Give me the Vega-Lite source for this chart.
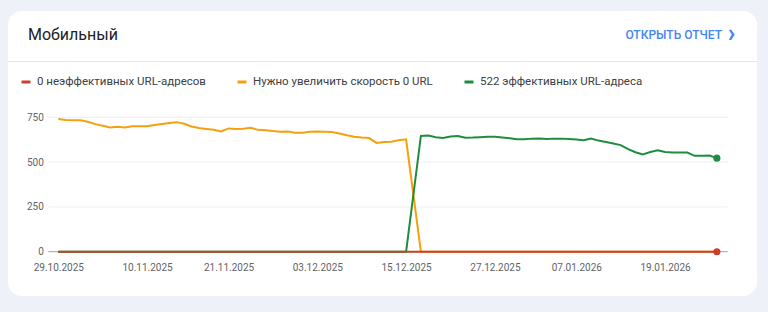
{
  "$schema": "https://vega.github.io/schema/vega-lite/v6.json",
  "width": 749,
  "height": 285,
  "autosize": {"type": "none"},
  "padding": {"left": 8, "top": 11, "right": 11, "bottom": 16},
  "background": "#eef2f8",
  "config": {
    "view": {"fill": "#ffffff", "stroke": null, "cornerRadius": 14},
    "font": "Roboto"
  },
  "title": {"text": "Мобильный", "anchor": "start", "frame": "group", "orient": "top", "offset": -40, "dx": 20, "baseline": "middle", "fontSize": 16, "fontWeight": "normal", "color": "#202124", "font": "Roboto"},
  "datasets": {
    "cwv": [
      {"date": "2025-10-29", "poor": 0, "ni": 740, "good": 0},
      {"date": "2025-10-30", "poor": 0, "ni": 735, "good": 0},
      {"date": "2025-10-31", "poor": 0, "ni": 733, "good": 0},
      {"date": "2025-11-01", "poor": 0, "ni": 733, "good": 0},
      {"date": "2025-11-02", "poor": 0, "ni": 725, "good": 0},
      {"date": "2025-11-03", "poor": 0, "ni": 712, "good": 0},
      {"date": "2025-11-04", "poor": 0, "ni": 703, "good": 0},
      {"date": "2025-11-05", "poor": 0, "ni": 693, "good": 0},
      {"date": "2025-11-06", "poor": 0, "ni": 697, "good": 0},
      {"date": "2025-11-07", "poor": 0, "ni": 693, "good": 0},
      {"date": "2025-11-08", "poor": 0, "ni": 700, "good": 0},
      {"date": "2025-11-09", "poor": 0, "ni": 700, "good": 0},
      {"date": "2025-11-10", "poor": 0, "ni": 700, "good": 0},
      {"date": "2025-11-11", "poor": 0, "ni": 707, "good": 0},
      {"date": "2025-11-12", "poor": 0, "ni": 713, "good": 0},
      {"date": "2025-11-13", "poor": 0, "ni": 718, "good": 0},
      {"date": "2025-11-14", "poor": 0, "ni": 723, "good": 0},
      {"date": "2025-11-15", "poor": 0, "ni": 714, "good": 0},
      {"date": "2025-11-16", "poor": 0, "ni": 699, "good": 0},
      {"date": "2025-11-17", "poor": 0, "ni": 690, "good": 0},
      {"date": "2025-11-18", "poor": 0, "ni": 685, "good": 0},
      {"date": "2025-11-19", "poor": 0, "ni": 680, "good": 0},
      {"date": "2025-11-20", "poor": 0, "ni": 671, "good": 0},
      {"date": "2025-11-21", "poor": 0, "ni": 688, "good": 0},
      {"date": "2025-11-22", "poor": 0, "ni": 685, "good": 0},
      {"date": "2025-11-23", "poor": 0, "ni": 686, "good": 0},
      {"date": "2025-11-24", "poor": 0, "ni": 691, "good": 0},
      {"date": "2025-11-25", "poor": 0, "ni": 680, "good": 0},
      {"date": "2025-11-26", "poor": 0, "ni": 678, "good": 0},
      {"date": "2025-11-27", "poor": 0, "ni": 673, "good": 0},
      {"date": "2025-11-28", "poor": 0, "ni": 669, "good": 0},
      {"date": "2025-11-29", "poor": 0, "ni": 671, "good": 0},
      {"date": "2025-11-30", "poor": 0, "ni": 664, "good": 0},
      {"date": "2025-12-01", "poor": 0, "ni": 664, "good": 0},
      {"date": "2025-12-02", "poor": 0, "ni": 669, "good": 0},
      {"date": "2025-12-03", "poor": 0, "ni": 671, "good": 0},
      {"date": "2025-12-04", "poor": 0, "ni": 670, "good": 0},
      {"date": "2025-12-05", "poor": 0, "ni": 668, "good": 0},
      {"date": "2025-12-06", "poor": 0, "ni": 660, "good": 0},
      {"date": "2025-12-07", "poor": 0, "ni": 650, "good": 0},
      {"date": "2025-12-08", "poor": 0, "ni": 642, "good": 0},
      {"date": "2025-12-09", "poor": 0, "ni": 637, "good": 0},
      {"date": "2025-12-10", "poor": 0, "ni": 634, "good": 0},
      {"date": "2025-12-11", "poor": 0, "ni": 607, "good": 0},
      {"date": "2025-12-12", "poor": 0, "ni": 612, "good": 0},
      {"date": "2025-12-13", "poor": 0, "ni": 613, "good": 0},
      {"date": "2025-12-14", "poor": 0, "ni": 622, "good": 0},
      {"date": "2025-12-15", "poor": 0, "ni": 627, "good": 0},
      {"date": "2025-12-17", "poor": 0, "ni": 0, "good": 646},
      {"date": "2025-12-18", "poor": 0, "ni": 0, "good": 648},
      {"date": "2025-12-19", "poor": 0, "ni": 0, "good": 639},
      {"date": "2025-12-20", "poor": 0, "ni": 0, "good": 634},
      {"date": "2025-12-21", "poor": 0, "ni": 0, "good": 643},
      {"date": "2025-12-22", "poor": 0, "ni": 0, "good": 646},
      {"date": "2025-12-23", "poor": 0, "ni": 0, "good": 636},
      {"date": "2025-12-24", "poor": 0, "ni": 0, "good": 637},
      {"date": "2025-12-25", "poor": 0, "ni": 0, "good": 639},
      {"date": "2025-12-26", "poor": 0, "ni": 0, "good": 641},
      {"date": "2025-12-27", "poor": 0, "ni": 0, "good": 641},
      {"date": "2025-12-28", "poor": 0, "ni": 0, "good": 637},
      {"date": "2025-12-29", "poor": 0, "ni": 0, "good": 633},
      {"date": "2025-12-30", "poor": 0, "ni": 0, "good": 627},
      {"date": "2025-12-31", "poor": 0, "ni": 0, "good": 628},
      {"date": "2026-01-01", "poor": 0, "ni": 0, "good": 631},
      {"date": "2026-01-02", "poor": 0, "ni": 0, "good": 632},
      {"date": "2026-01-03", "poor": 0, "ni": 0, "good": 629},
      {"date": "2026-01-04", "poor": 0, "ni": 0, "good": 631},
      {"date": "2026-01-05", "poor": 0, "ni": 0, "good": 631},
      {"date": "2026-01-06", "poor": 0, "ni": 0, "good": 629},
      {"date": "2026-01-07", "poor": 0, "ni": 0, "good": 626},
      {"date": "2026-01-08", "poor": 0, "ni": 0, "good": 622},
      {"date": "2026-01-09", "poor": 0, "ni": 0, "good": 631},
      {"date": "2026-01-10", "poor": 0, "ni": 0, "good": 620},
      {"date": "2026-01-11", "poor": 0, "ni": 0, "good": 612},
      {"date": "2026-01-12", "poor": 0, "ni": 0, "good": 604},
      {"date": "2026-01-13", "poor": 0, "ni": 0, "good": 595},
      {"date": "2026-01-14", "poor": 0, "ni": 0, "good": 572},
      {"date": "2026-01-15", "poor": 0, "ni": 0, "good": 555},
      {"date": "2026-01-16", "poor": 0, "ni": 0, "good": 543},
      {"date": "2026-01-17", "poor": 0, "ni": 0, "good": 556},
      {"date": "2026-01-18", "poor": 0, "ni": 0, "good": 566},
      {"date": "2026-01-19", "poor": 0, "ni": 0, "good": 556},
      {"date": "2026-01-20", "poor": 0, "ni": 0, "good": 553},
      {"date": "2026-01-21", "poor": 0, "ni": 0, "good": 553},
      {"date": "2026-01-22", "poor": 0, "ni": 0, "good": 553},
      {"date": "2026-01-23", "poor": 0, "ni": 0, "good": 535},
      {"date": "2026-01-24", "poor": 0, "ni": 0, "good": 535},
      {"date": "2026-01-25", "poor": 0, "ni": 0, "good": 537},
      {"date": "2026-01-26", "poor": 0, "ni": 0, "good": 522}
    ]
  },
  "layer": [
    {
      "data": {"values": [{"line": "divider"}]},
      "mark": {"type": "rule", "color": "#e2e4e8", "strokeWidth": 1},
      "encoding": {
        "y": {"datum": 1061.4, "type": "quantitative", "scale": {"domain": [-247.2, 1343.2], "nice": false, "zero": false},
          "axis": {"values": [0, 250, 500, 750], "orient": "left", "offset": -35.3, "labelPadding": 0, "tickSize": 0, "ticks": false, "domain": false, "grid": false, "title": null, "labelFontSize": 10, "labelFont": "Roboto", "labelColor": "#5f6368", "labelAlign": "right", "labelBaseline": "middle"}}
      }
    },
    {
      "data": {"values": [{"level": 250}, {"level": 500}, {"level": 750}]},
      "mark": {"type": "rule", "color": "#eeeeee", "strokeWidth": 1},
      "encoding": {
        "y": {"field": "level", "type": "quantitative"},
        "x": {"datum": {"year": 2025, "month": 10, "date": 27, "hours": 15, "minutes": 34, "utc": true}, "type": "temporal",
          "scale": {"type": "utc", "nice": false, "domain": [{"year": 2025, "month": 10, "date": 22, "hours": 4, "minutes": 52, "utc": true}, {"year": 2026, "month": 1, "date": 31, "hours": 10, "minutes": 5, "utc": true}]},
          "axis": {"values": [
            {"year": 2025, "month": 10, "date": 29, "utc": true},
            {"year": 2025, "month": 11, "date": 10, "utc": true},
            {"year": 2025, "month": 11, "date": 21, "utc": true},
            {"year": 2025, "month": 12, "date": 3, "utc": true},
            {"year": 2025, "month": 12, "date": 15, "utc": true},
            {"year": 2025, "month": 12, "date": 27, "utc": true},
            {"year": 2026, "month": 1, "date": 7, "utc": true},
            {"year": 2026, "month": 1, "date": 19, "utc": true}
          ], "format": "%d.%m.%Y", "orient": "bottom", "offset": -44.3, "labelPadding": 11, "tickSize": 0, "ticks": false, "domain": false, "grid": false, "title": null, "labelFontSize": 10, "labelFont": "Roboto", "labelColor": "#5f6368", "labelFlush": false, "labelOverlap": false}},
        "x2": {"datum": {"year": 2026, "month": 1, "date": 27, "hours": 11, "minutes": 2, "utc": true}}
      }
    },
    {
      "data": {"values": [{"level": 0}]},
      "mark": {"type": "rule", "color": "#9aa0a6", "strokeWidth": 1},
      "encoding": {
        "y": {"field": "level", "type": "quantitative"},
        "x": {"datum": {"year": 2025, "month": 10, "date": 27, "hours": 15, "minutes": 34, "utc": true}, "type": "temporal"},
        "x2": {"datum": {"year": 2026, "month": 1, "date": 27, "hours": 11, "minutes": 2, "utc": true}}
      }
    },
    {
      "data": {"values": [{"label": "ОТКРЫТЬ ОТЧЕТ"}]},
      "mark": {"type": "text", "align": "right", "baseline": "middle", "fontSize": 12, "fontWeight": 500, "color": "#4285f4", "font": "Roboto"},
      "encoding": {
        "text": {"field": "label"},
        "x": {"datum": {"year": 2026, "month": 1, "date": 26, "hours": 16, "minutes": 33, "utc": true}, "type": "temporal"},
        "y": {"datum": 1209.3, "type": "quantitative"}
      }
    },
    {
      "data": {"values": [{"label": "›"}]},
      "mark": {"type": "text", "align": "center", "baseline": "middle", "fontSize": 25, "fontWeight": "bold", "color": "#4285f4", "font": "Roboto"},
      "encoding": {
        "text": {"field": "label"},
        "x": {"datum": {"year": 2026, "month": 1, "date": 27, "hours": 23, "minutes": 17, "utc": true}, "type": "temporal"},
        "y": {"datum": 1213, "type": "quantitative"}
      }
    },
    {
      "data": {"name": "cwv"},
      "transform": [{"fold": ["ni", "good", "poor"], "as": ["series", "value"]}],
      "mark": {"type": "line", "strokeWidth": 2},
      "encoding": {
        "x": {"field": "date", "type": "temporal"},
        "y": {"field": "value", "type": "quantitative"},
        "color": {"field": "series", "type": "nominal",
          "scale": {"domain": ["poor", "ni", "good"], "range": ["#c9402a", "#f5a010", "#1e8e3e"]},
          "legend": {"orient": "none", "legendX": 12, "legendY": 65, "direction": "horizontal", "title": null, "symbolType": "stroke", "symbolSize": 81, "symbolStrokeWidth": 3, "labelFontSize": 11.5, "labelFont": "Roboto", "labelColor": "#3c4043", "labelOffset": 5, "labelLimit": 400, "columnPadding": 25, "padding": 0,
            "labelExpr": "datum.value == 'poor' ? '0 неэффективных URL-адресов' : datum.value == 'ni' ? 'Нужно увеличить скорость 0 URL' : '522 эффективных URL-адреса'"}}
      }
    },
    {
      "data": {"name": "cwv"},
      "transform": [
        {"fold": ["good", "poor"], "as": ["series", "value"]},
        {"filter": {"field": "date", "equal": {"year": 2026, "month": 1, "date": 26, "utc": true}}}
      ],
      "mark": {"type": "point", "filled": true, "size": 50, "opacity": 1},
      "encoding": {
        "x": {"field": "date", "type": "temporal"},
        "y": {"field": "value", "type": "quantitative"},
        "color": {"field": "series", "type": "nominal", "legend": null}
      }
    }
  ]
}
